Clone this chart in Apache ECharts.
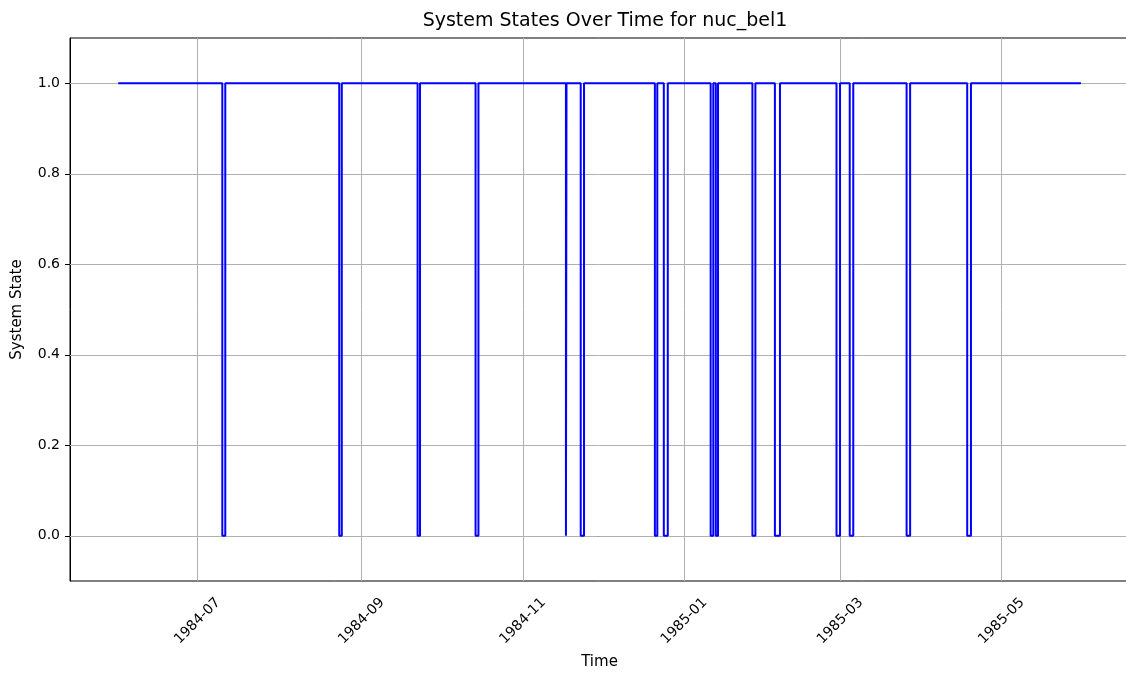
<!DOCTYPE html>
<html lang="en">
<head>
    <meta charset="UTF-8">
    <title>System States Over Time for nuc_bel1</title>
    <script type="text/javascript" src="https://cdn.jsdelivr.net/npm/echarts@6/dist/echarts.min.js"></script>
    <style>
        html, body { margin: 0; padding: 0; background: #fff; }
        #charts { width: 1126px; height: 673px; }
    </style>
</head>
<body>
<div id="charts"></div>
<script>
    // time span of the record
    var seriesStart = '1984-06-01 00:00'
    var seriesEnd = '1985-05-31 00:00'
    // outages: state goes to 0 at outageStart, back to 1 at outageEnd
    var outageStart = ['1984-07-10 09:00', '1984-08-23 14:00', '1984-09-22 05:00', '1984-10-14 03:00',
        '1984-11-17 07:00', '1984-11-22 21:00', '1984-12-20 22:00', '1984-12-24 07:00',
        '1985-01-11 00:00', '1985-01-12 23:00', '1985-01-26 19:00', '1985-02-04 07:00',
        '1985-02-27 14:00', '1985-03-04 14:00', '1985-03-26 02:00', '1985-04-18 00:00']
    var outageEnd = ['1984-07-11 12:00', '1984-08-24 13:00', '1984-09-23 03:00', '1984-10-15 05:00',
        '1984-11-17 12:00', '1984-11-24 03:00', '1984-12-21 20:00', '1984-12-25 19:00',
        '1985-01-12 00:00', '1985-01-13 19:00', '1985-01-27 22:00', '1985-02-06 05:00',
        '1985-02-28 22:00', '1985-03-05 22:00', '1985-03-27 10:00', '1985-04-19 10:00']
    var xTickLabels = ['1984-07', '1984-09', '1984-11', '1985-01', '1985-03', '1985-05']
    var yTicks = [0, 0.2, 0.4, 0.6, 0.8, 1.0]

    function ts(s) { return echarts.time.parse(s).getTime() }

    var states = [[ts(seriesStart), 1]]
    for (var i = 0; i < outageStart.length; i++) {
        states.push([ts(outageStart[i]), 0])
        states.push([ts(outageEnd[i]), 1])
    }
    states.push([ts(seriesEnd), 1])

    var xTicks = xTickLabels.map(function (s) { return ts(s + '-01') })

    var gridLines = xTicks.map(function (t) { return {xAxis: t} })
        .concat(yTicks.map(function (v) { return {yAxis: v} }))

    var font = 'DejaVu Sans'
    var chart = echarts.init(document.getElementById('charts'), null, {renderer: 'canvas'})
    chart.setOption({
        animation: false,
        title: {
            text: 'System States Over Time for nuc_bel1',
            left: 600, top: 7, textAlign: 'center',
            textStyle: {fontFamily: font, fontSize: 19, fontWeight: 'normal', color: '#000'}
        },
        grid: {
            left: 70, right: -3, top: 38, bottom: 92,
            containLabel: false, outerBoundsMode: 'none',
            show: true, borderColor: '#000', borderWidth: 1, backgroundColor: 'transparent'
        },
        xAxis: {
            // timestamps on a plain value axis so the month ticks can be placed exactly
            type: 'value',
            min: ts('1984-05-13 19:00'),
            max: ts('1985-06-18 04:00'),
            name: 'Time', nameLocation: 'middle', nameGap: 74,
            nameTextStyle: {fontFamily: font, fontSize: 15, color: '#000'},
            axisLine: {lineStyle: {color: '#000', width: 1}},
            axisTick: {customValues: xTicks, length: 5, lineStyle: {color: '#000'}},
            axisLabel: {
                customValues: xTicks, rotate: 45, margin: 40,
                align: 'center', verticalAlign: 'middle',
                fontFamily: font, fontSize: 14, color: '#000',
                formatter: function (v) {
                    var i = xTicks.indexOf(v)
                    return i >= 0 ? xTickLabels[i] : ''
                }
            },
            splitLine: {show: false}
        },
        yAxis: {
            type: 'value', min: -0.1, max: 1.1,
            name: 'System State', nameLocation: 'middle', nameGap: 45,
            nameTextStyle: {fontFamily: font, fontSize: 15, color: '#000'},
            axisLine: {show: true, lineStyle: {color: '#000', width: 1}},
            axisTick: {show: true, customValues: yTicks, length: 5, lineStyle: {color: '#000'}},
            axisLabel: {
                customValues: yTicks, margin: 10,
                fontFamily: font, fontSize: 14, color: '#000',
                formatter: function (v) { return v.toFixed(1) }
            },
            splitLine: {show: false}
        },
        series: [{
            // grid lines at the tick positions, kept below the state line
            type: 'line', z: 1, data: states, silent: true,
            showSymbol: false, lineStyle: {opacity: 0},
            markLine: {
                z: 1, silent: true, symbol: ['none', 'none'], label: {show: false},
                lineStyle: {color: '#b0b0b0', width: 1, type: 'solid'},
                data: gridLines
            }
        }, {
            type: 'line', z: 3, step: 'end', data: states,
            showSymbol: false,
            lineStyle: {color: '#0000ff', width: 2}
        }]
    })
</script>
</body>
</html>
